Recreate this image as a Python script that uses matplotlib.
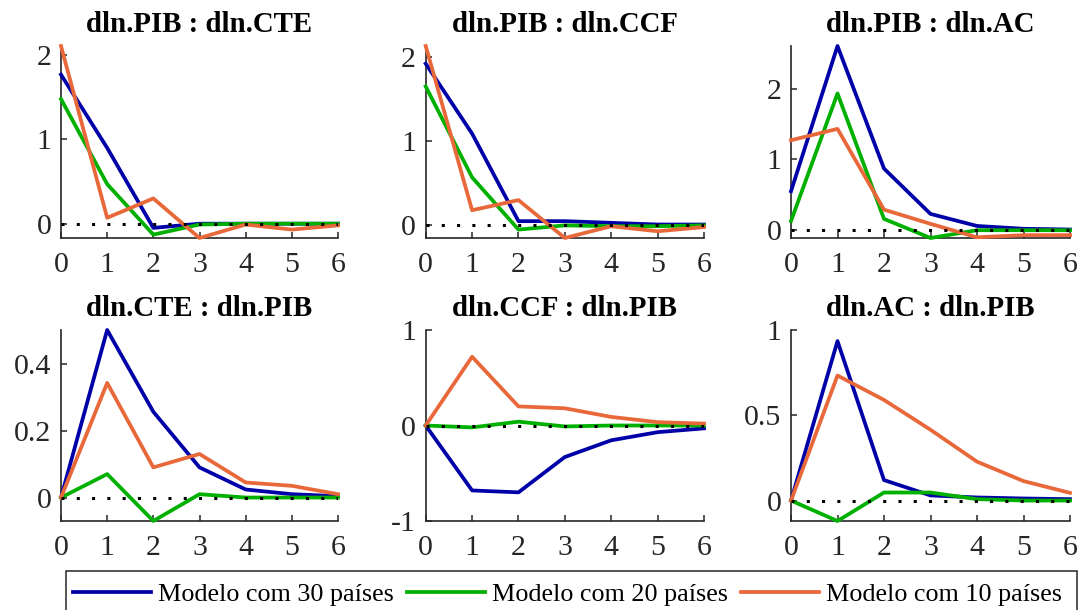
import matplotlib
matplotlib.use("Agg")
import matplotlib.pyplot as plt
from matplotlib.patches import Rectangle
import numpy as np

# Impulse-response horizons
horizons = [0, 1, 2, 3, 4, 5, 6]

titles = [
    "dln.PIB : dln.CTE", "dln.PIB : dln.CCF", "dln.PIB : dln.AC",
    "dln.CTE : dln.PIB", "dln.CCF : dln.PIB", "dln.AC : dln.PIB",
]

series_labels = ["Modelo com 30 países", "Modelo com 20 países", "Modelo com 10 países"]

# Responses of the 30-country model
resp_30 = [
    [1.77, 0.90, -0.05, 0.00, 0.00, 0.00, 0.00],
    [1.92, 1.09, 0.05, 0.05, 0.03, 0.01, 0.01],
    [0.55, 2.60, 0.87, 0.23, 0.06, 0.02, 0.01],
    [0.00, 0.50, 0.256, 0.09, 0.024, 0.01, 0.004],
    [0.00, -0.68, -0.70, -0.33, -0.155, -0.07, -0.03],
    [0.00, 0.935, 0.12, 0.03, 0.018, 0.012, 0.008],
]

# Responses of the 20-country model
resp_20 = [
    [1.48, 0.47, -0.13, -0.01, 0.00, 0.00, 0.00],
    [1.65, 0.57, -0.05, 0.00, -0.01, -0.01, 0.00],
    [0.13, 1.93, 0.16, -0.11, 0.00, 0.00, 0.00],
    [0.00, 0.07, -0.07, 0.01, 0.00, 0.00, 0.00],
    [0.00, -0.02, 0.04, -0.01, 0.00, 0.00, 0.00],
    [0.00, -0.12, 0.047, 0.047, 0.008, 0.00, 0.00],
]

# Responses of the 10-country model
resp_10 = [
    [2.11, 0.07, 0.30, -0.17, -0.01, -0.07, -0.02],
    [2.13, 0.18, 0.30, -0.15, -0.01, -0.07, -0.02],
    [1.27, 1.43, 0.29, 0.09, -0.10, -0.07, -0.07],
    [0.00, 0.342, 0.09, 0.13, 0.045, 0.035, 0.01],
    [0.00, 0.72, 0.20, 0.18, 0.09, 0.035, 0.02],
    [0.00, 0.733, 0.59, 0.415, 0.228, 0.114, 0.045],
]

yticks = [
    [0, 1, 2], [0, 1, 2], [0, 1, 2],
    [0, 0.2, 0.4], [-1, 0, 1], [0, 0.5, 1],
]
ytick_labels = [
    ["0", "1", "2"], ["0", "1", "2"], ["0", "1", "2"],
    ["0", "0.2", "0.4"], ["-1", "0", "1"], ["0", "0.5", "1"],
]

colors = ["#0000A8", "#00B000", "#E8683A"]
axis_col = "#262626"

plt.rcParams["font.family"] = ["Liberation Serif", "DejaVu Serif"]

fig = plt.figure(figsize=(10.8, 6.1), dpi=100)

W, H = 1080.0, 610.0
lefts = [61, 425.7, 791]
widths = [277, 278.3, 279]
rows = [(46, 238), (330, 521)]

axes = []
for r, (top, bot) in enumerate(rows):
    for c in range(3):
        ax = fig.add_axes([lefts[c] / W, 1 - bot / H, widths[c] / W, (bot - top) / H])
        axes.append(ax)

handles = []
for i, ax in enumerate(axes):
    lines = []
    for data, col, lab in zip((resp_30, resp_20, resp_10), colors, series_labels):
        ln, = ax.plot(horizons, data[i], color=col, lw=2.7, label=lab,
                      clip_on=False, zorder=3)
        lines.append(ln)
    if i == 0:
        handles = lines
    ax.plot([horizons[0], horizons[-1]], [0, 0], color="black", lw=2.2,
            linestyle=(0, (1.0, 4.0)), zorder=4)

    all_vals = np.concatenate([resp_30[i], resp_20[i], resp_10[i]])
    lo, hi = all_vals.min(), all_vals.max()
    if i == 4:
        lo, hi = -1.0, 1.0
    elif i == 5:
        hi = 1.0
    ax.set_ylim(lo, hi)
    ax.set_xlim(horizons[0], horizons[-1])
    ax.set_xticks(horizons)
    ax.set_xticklabels([str(h) for h in horizons])
    ax.set_yticks(yticks[i])
    ax.set_yticklabels(ytick_labels[i])

    for s in ("top", "right"):
        ax.spines[s].set_visible(False)
    for s in ("left", "bottom"):
        ax.spines[s].set_color(axis_col)
        ax.spines[s].set_linewidth(1.2)
    ax.tick_params(axis="both", direction="in", length=4, width=1.1,
                   colors=axis_col, labelsize=21.5, labelcolor=axis_col)
    ax.tick_params(axis="x", pad=10)
    ax.tick_params(axis="y", pad=7)
    ax.set_title(titles[i], fontsize=20.8, fontweight="bold", pad=10, color="black")

# Legend row along the bottom, inside an open-ended box
leg = fig.legend(handles, series_labels, loc="center left",
                 bbox_to_anchor=(66 / W, 1 - 594 / H), ncol=3,
                 fontsize=18.8, frameon=False,
                 handlelength=3.0, handletextpad=0.25, columnspacing=0.5,
                 borderpad=0.27, borderaxespad=0.0)
box = Rectangle((66 / W, -0.05), (1077 - 66) / W, (1 - 571 / H) + 0.05,
                transform=fig.transFigure, fill=False, edgecolor=axis_col,
                linewidth=1.1)
fig.patches.append(box)

fig.savefig("out.png", dpi=100, facecolor="white")
